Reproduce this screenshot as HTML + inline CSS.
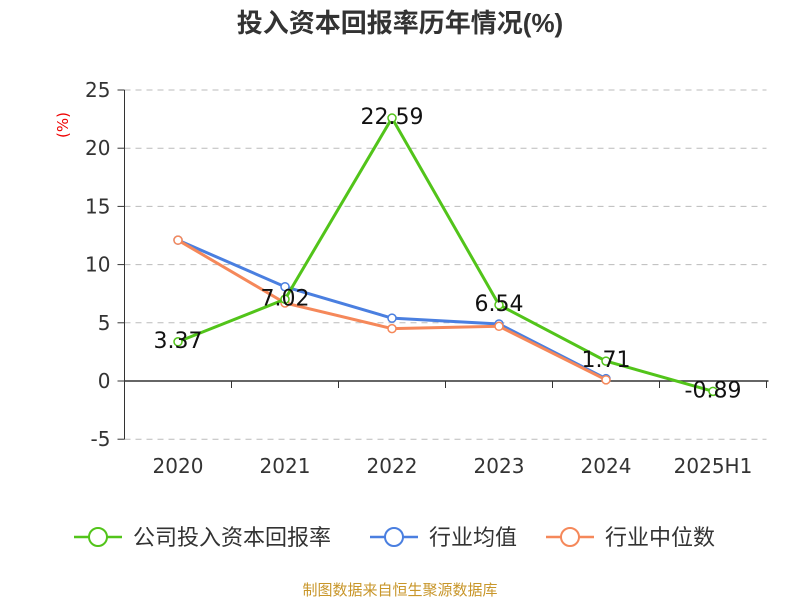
<!DOCTYPE html>
<html><head><meta charset="utf-8"><style>
body{margin:0;background:#fff;font-family:"DejaVu Sans","Noto Sans CJK SC",sans-serif}
</style></head><body>
<svg width="800" height="600" xmlns="http://www.w3.org/2000/svg" font-family="DejaVu Sans, Noto Sans CJK SC, sans-serif">
<text x="400" y="32" text-anchor="middle" font-size="26" font-weight="bold" fill="#333" font-family="Liberation Sans, Noto Sans CJK SC, sans-serif">投入资本回报率历年情况(%)</text>
<text transform="translate(68,125) rotate(-90)" text-anchor="middle" font-size="15" fill="#e00">(%)</text>
<g id="grid"></g><g id="axes"></g><g id="series"></g>
<g>
<g><line x1="74" y1="537" x2="122" y2="537" stroke="#52c41a" stroke-width="2.5"/><circle cx="98" cy="537" r="9" fill="#fff" stroke="#52c41a" stroke-width="2"/><text x="133" y="545" font-size="22" fill="#333">公司投入资本回报率</text></g>
<g><line x1="370" y1="537" x2="418" y2="537" stroke="#4a7fe0" stroke-width="2.5"/><circle cx="394" cy="537" r="9" fill="#fff" stroke="#4a7fe0" stroke-width="2"/><text x="429" y="545" font-size="22" fill="#333">行业均值</text></g>
<g><line x1="546" y1="537" x2="594" y2="537" stroke="#f5885a" stroke-width="2.5"/><circle cx="570" cy="537" r="9" fill="#fff" stroke="#f5885a" stroke-width="2"/><text x="605" y="545" font-size="22" fill="#333">行业中位数</text></g>
</g>
<text x="400" y="595" text-anchor="middle" font-size="15" fill="#c8962a">制图数据来自恒生聚源数据库</text>
</svg>
<script>
const categories=["2020","2021","2022","2023","2024","2025H1"];
const company=[3.37,7.02,22.59,6.54,1.71,-0.89];
const industryAvg=[12.1,8.1,5.4,4.9,0.2];
const industryMedian=[12.1,6.7,4.5,4.7,0.1];
const yTicks=[-5,0,5,10,15,20,25];
const NS="http://www.w3.org/2000/svg";
const L=124.5,R=766.5,bw=(R-L)/categories.length;
const y=v=>381-v*(291/25);
const x=i=>L+bw*(i+0.5);
function mk(t,a,p){const e=document.createElementNS(NS,t);for(const k in a)e.setAttribute(k,a[k]);p.appendChild(e);return e;}
const grid=document.getElementById('grid'),axes=document.getElementById('axes'),ser=document.getElementById('series');
yTicks.forEach(v=>{
 if(v!==0){const g=mk('line',{x1:L,x2:R,y1:y(v),y2:y(v),stroke:'#bbb','stroke-dasharray':'6,5'},grid);
 }
 mk('line',{x1:L-7,x2:L,y1:y(v),y2:y(v),stroke:'#333'},axes);
 const t=mk('text',{x:L-14,y:y(v)+7,'text-anchor':'end','font-size':20,fill:'#333'},axes);t.textContent=v;
 
});
const ya=mk('line',{x1:L,x2:L,y1:y(25),y2:y(-5),stroke:'#333'},axes);

const xa=mk('line',{x1:L,x2:R+2,y1:y(0),y2:y(0),stroke:'#333','stroke-width':1.5},axes);

categories.forEach((c,i)=>{
 mk('line',{x1:L+bw*(i+1),x2:L+bw*(i+1),y1:y(0),y2:y(0)+7,stroke:'#333'},axes);
 const t=mk('text',{x:x(i),y:473,'text-anchor':'middle','font-size':20,fill:'#333'},axes);t.textContent=c;
 
});
function line(data,color,name,labels){
 const g=mk('g',{},ser);
 mk('polyline',{points:data.map((v,i)=>x(i)+','+y(v)).join(' '),fill:'none',stroke:color,'stroke-width':3},g);
 data.forEach((v,i)=>{const c=mk('circle',{cx:x(i),cy:y(v),r:4,fill:'#fff',stroke:color,'stroke-width':1.5},g);
  
  if(labels){const t=mk('text',{x:x(i),y:y(v)+6,'text-anchor':'middle','font-size':22,fill:'#111'},g);t.textContent=v.toFixed(2);
  }
 });
}
line(industryAvg,'#4a7fe0','industry-avg-line');
line(industryMedian,'#f5885a','industry-median-line');
line(company,'#52c41a','company-line',true);
</script>
</body></html>
